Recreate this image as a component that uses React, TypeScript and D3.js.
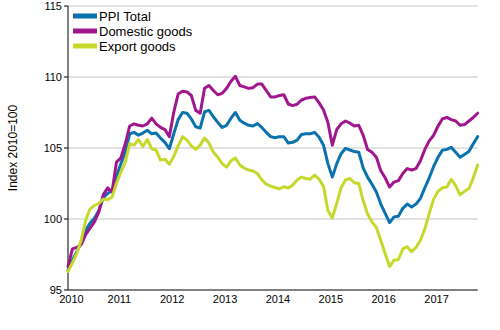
import React from "react";
import * as d3 from "d3";

const years = ["2010", "2011", "2012", "2013", "2014", "2015", "2016", "2017"];
const months: string[] = [];
for (const y of years) {
  for (let m = 1; m <= 12; m++) {
    if (y === "2017" && m > 10) break;
    months.push(`${y}M${String(m).padStart(2, "0")}`);
  }
}

const ppiTotal = [
  96.4, 97.1, 97.7, 98.3, 99.2, 99.7, 100.05, 100.6, 101.5, 101.8, 102.0, 103.0,
  103.9, 104.7, 106.0, 106.1, 105.9, 106.05, 106.25, 106.0, 106.05, 105.7, 105.4, 104.95,
  106.0, 107.0, 107.5, 107.45, 107.05, 106.5, 106.4, 107.55, 107.65, 107.2, 106.8, 106.45,
  106.6, 107.1, 107.5, 106.95, 106.75, 106.6, 106.55, 106.72, 106.45, 106.1, 105.8, 105.72,
  105.8, 105.8, 105.35, 105.4, 105.55, 105.95, 106.0, 106.0, 106.1, 105.75, 105.2, 103.9,
  102.95, 103.9, 104.6, 104.98, 104.86, 104.75, 104.7, 103.6, 102.95, 102.45, 101.9, 101.05,
  100.4, 99.75, 100.15, 100.2, 100.75, 101.05, 100.85, 101.05, 101.45, 102.2, 102.9, 103.7,
  104.35, 104.85, 104.9, 105.05, 104.7, 104.35, 104.55, 104.75, 105.3, 105.8,
];

const domesticGoods = [
  96.65, 97.9, 98.0, 98.2, 98.9, 99.35, 99.8, 100.5, 101.7, 102.2, 101.9, 104.0,
  104.3, 105.3, 106.55, 106.7, 106.6, 106.55, 106.7, 107.1, 106.7, 106.45, 106.3, 105.8,
  107.5, 108.8, 109.0, 108.95, 108.7, 107.65, 107.45, 109.2, 109.4, 109.05, 108.75, 108.85,
  109.2, 109.7, 110.05, 109.4, 109.3, 109.2, 109.25, 109.5, 109.5, 109.05, 108.6, 108.6,
  108.7, 108.75, 108.1, 107.98, 108.08, 108.38, 108.5, 108.55, 108.6, 108.18, 107.68, 106.8,
  105.2, 106.3, 106.7, 106.9, 106.75, 106.55, 106.6, 105.9, 104.9, 104.7, 104.35, 103.4,
  102.9, 102.25, 102.6, 102.7, 103.2, 103.55, 103.45, 103.55, 104.1, 104.9, 105.5, 105.9,
  106.55, 107.05, 107.15, 107.0, 106.9, 106.6, 106.65, 106.9, 107.15, 107.45,
];

const exportGoods = [
  96.3, 96.9, 97.6, 98.5, 99.9, 100.7, 100.95, 101.1, 101.4, 101.35, 101.55, 102.5,
  103.3, 104.0, 105.3, 105.2, 105.6, 105.1, 105.6, 104.95, 104.85, 104.15, 104.2, 103.85,
  104.4, 105.15, 105.8, 105.55, 105.15, 104.9, 105.2, 105.7, 105.35, 104.7, 104.35, 103.9,
  103.65, 104.1, 104.3, 103.8, 103.58, 103.45, 103.38, 103.2, 102.75, 102.45, 102.32, 102.22,
  102.12, 102.27, 102.18, 102.4, 102.75, 102.95, 102.85, 102.8, 103.1, 102.8, 102.3, 100.6,
  100.08, 101.1, 102.2, 102.75, 102.85, 102.55, 102.5, 101.3, 100.35, 99.8, 99.4, 98.5,
  97.55, 96.65, 97.1, 97.15, 97.9, 98.05, 97.7, 98.0, 98.5, 99.3, 100.4, 101.4,
  101.95, 102.2, 102.25, 102.8, 102.35, 101.7, 101.95, 102.15, 102.9, 103.8,
];

const yTicks = [95, 100, 105, 110, 115];
const seriesNames = ["PPI Total", "Domestic goods", "Export goods"];
const seriesColors = ["#0a72ad", "#a0168c", "#c6d82c"];
const seriesData = [ppiTotal, domesticGoods, exportGoods];

const W = 500;
const H = 330;
const left = 68;
const right = 477.7;
const top = 6;
const bottom = 290;
const font = "Arial, 'Liberation Sans', sans-serif";

export default function App() {
  const x = d3.scalePoint<string>().domain(months).range([left, right]);
  const y = d3.scaleLinear().domain([95, 115]).range([bottom, top]);
  const line = d3
    .line<number>()
    .x((_, i) => x(months[i]) as number)
    .y((d) => y(d));

  return (
    <svg
      width={W}
      height={H}
      style={{ position: "absolute", left: 0, top: 0, background: "#fff" }}
      fontFamily={font}
    >
      {yTicks.map((t) => (
        <g key={t}>
          {t !== 95 && (
            <line x1={left} x2={right} y1={y(t)} y2={y(t)} stroke="#c4c4c4" strokeWidth={1} />
          )}
          <line x1={left - 4} x2={left} y1={y(t)} y2={y(t)} stroke="#000" strokeWidth={1} />
          <text x={left - 6} y={y(t)} dy="0.35em" textAnchor="end" fontSize={11} fill="#000">
            {t}
          </text>
        </g>
      ))}
      <line x1={left} x2={left} y1={top} y2={bottom} stroke="#000" strokeWidth={1} />
      <line x1={left} x2={right} y1={bottom} y2={bottom} stroke="#000" strokeWidth={1} />
      {years.map((yr, k) => {
        const xv = x(`${yr}M01`) as number;
        return (
          <text
            key={yr}
            x={k === 0 ? xv + 3.5 : xv - 1.5}
            y={303}
            textAnchor="middle"
            fontSize={11}
            fill="#000"
          >
            {yr}
          </text>
        );
      })}
      <text
        transform={`translate(17,148) rotate(-90)`}
        textAnchor="middle"
        fontSize={12}
        fill="#000"
      >
        Index 2010=100
      </text>
      {seriesData.map((s, k) => (
        <path
          key={seriesNames[k]}
          d={line(s) as string}
          fill="none"
          stroke={seriesColors[k]}
          strokeWidth={3}
          strokeLinejoin="round"
          strokeLinecap="round"
        />
      ))}
      {seriesNames.map((n, k) => (
        <g key={n}>
          <line
            x1={73}
            x2={97}
            y1={16 + k * 15}
            y2={16 + k * 15}
            stroke={seriesColors[k]}
            strokeWidth={5}
          />
          <text x={99} y={16 + k * 15} dy="0.36em" fontSize={13} fill="#000">
            {n}
          </text>
        </g>
      ))}
    </svg>
  );
}
